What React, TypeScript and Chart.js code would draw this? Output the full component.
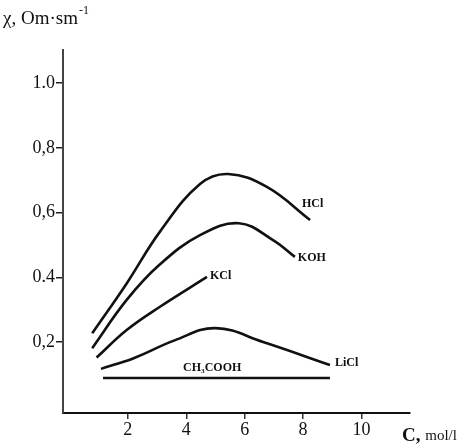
import React, { useEffect, useRef } from "react";
import { Chart, registerables } from "chart.js";

Chart.register(...registerables);

// Concentration C (mol/l) and conductivity χ values
const hclX = [0.78, 1.96, 3.1, 4.47, 5.43, 6.76, 8.24];
const hclY = [0.227, 0.381, 0.541, 0.688, 0.719, 0.679, 0.577];

const kohX = [0.78, 1.96, 3.1, 4.47, 5.8, 6.97, 7.72];
const kohY = [0.181, 0.33, 0.44, 0.53, 0.567, 0.515, 0.463];

const kclX = [0.93, 1.96, 3.1, 4.71];
const kclY = [0.152, 0.237, 0.309, 0.401];

const liclX = [1.08, 2.2, 3.6, 5.0, 6.63, 8.92];
const liclY = [0.117, 0.15, 0.205, 0.243, 0.2, 0.129];

const aceticX = [1.15, 8.92];
const aceticY = [0.089, 0.089];

const xTicks = [2, 4, 6, 8, 10];
const yTicks = [0.2, 0.4, 0.6, 0.8, 1.0];
const yTickLabels = ["0,2", "0.4", "0,6", "0,8", "1.0"];

const seriesNames = ["HCl", "KOH", "KCl", "LiCl", "CH₃COOH"];
const labelX = [7.96, 7.82, 4.81, 9.09, 3.89];
const labelY = [0.628, 0.459, 0.404, 0.135, 0.12];

const pts = (xs: number[], ys: number[]) => xs.map((x, i) => ({ x, y: ys[i] }));

const SERIF = "'Liberation Serif', 'DejaVu Serif', serif";

export default function App() {
  const ref = useRef<HTMLCanvasElement | null>(null);

  useEffect(() => {
    if (!ref.current) return;
    const ds = (xs: number[], ys: number[], tension = 0.4) => ({
      data: pts(xs, ys),
      borderColor: "#111",
      borderWidth: 2.6,
      pointRadius: 0,
      fill: false,
      tension,
    });

    const labelsPlugin = {
      id: "labelsPlugin",
      afterDraw(chart: any) {
        const ctx = chart.ctx;
        const xs = chart.scales.x;
        const ys = chart.scales.y;
        ctx.save();
        ctx.fillStyle = "#111";
        ctx.textBaseline = "middle";
        ctx.textAlign = "left";
        ctx.font = `bold 12px ${SERIF}`;
        seriesNames.forEach((n, i) => {
          ctx.fillText(n, xs.getPixelForValue(labelX[i]), ys.getPixelForValue(labelY[i]));
        });
        // axis titles
        ctx.font = `19px ${SERIF}`;
        ctx.fillText("χ, Om·sm", 3, 19);
        const w = ctx.measureText("χ, Om·sm").width;
        ctx.font = `12px ${SERIF}`;
        ctx.fillText("-1", 3 + w + 1, 11);
        ctx.font = `bold 19px ${SERIF}`;
        ctx.fillText("C,", 402, 436);
        const w2 = ctx.measureText("C, ").width;
        ctx.font = `15px ${SERIF}`;
        ctx.fillText("mol/l", 402 + w2, 436);
        ctx.restore();
      },
    };

    const chart = new Chart(ref.current, {
      type: "line",
      data: {
        datasets: [
          ds(hclX, hclY),
          ds(kohX, kohY),
          ds(kclX, kclY),
          ds(liclX, liclY),
          ds(aceticX, aceticY, 0),
        ],
      },
      options: {
        animation: false,
        responsive: false,
        maintainAspectRatio: false,
        layout: { padding: { left: 0, top: 50, right: 63, bottom: 0 } },
        plugins: { legend: { display: false }, tooltip: { enabled: false } },
        scales: {
          x: {
            type: "linear",
            min: -0.22,
            max: 11.66,
            grid: { display: true, drawOnChartArea: false, drawTicks: true, tickLength: 6, tickColor: "#333", lineWidth: 1.5 } as any,
            border: { display: true, color: "#111", width: 2 },
            afterBuildTicks: (s: any) => {
              s.ticks = xTicks.map((v) => ({ value: v }));
            },
            afterFit: (s: any) => {
              s.height = 31;
            },
            ticks: {
              color: "#111",
              font: { family: SERIF, size: 18 },
              padding: 0,
              maxRotation: 0,
              callback: (v: any) => String(v),
            },
          },
          y: {
            type: "linear",
            min: -0.0193,
            max: 1.102,
            grid: { display: true, drawOnChartArea: false, drawTicks: true, tickLength: 7, tickColor: "#222", lineWidth: 1.5 } as any,
            border: { display: true, color: "#444", width: 2, dash: [2, 1] },
            afterBuildTicks: (s: any) => {
              s.ticks = yTicks.map((v) => ({ value: v }));
            },
            afterFit: (s: any) => {
              s.width = 63;
            },
            ticks: {
              color: "#111",
              font: { family: SERIF, size: 18 },
              padding: 1,
              callback: (v: any) => {
                const i = yTicks.findIndex((t) => Math.abs(t - v) < 1e-6);
                return i >= 0 ? yTickLabels[i] : "";
              },
            },
          },
        },
      },
      plugins: [labelsPlugin],
    } as any);
    return () => chart.destroy();
  }, []);

  return (
    <div style={{ position: "absolute", left: 0, top: 0, width: 473, height: 444, background: "#fff" }}>
      <canvas ref={ref} width={473} height={444} />
    </div>
  );
}
